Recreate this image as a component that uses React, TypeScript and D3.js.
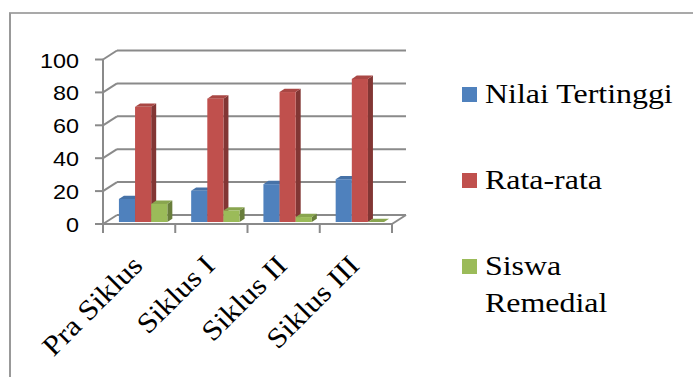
import React from "react";
import * as d3 from "d3";

const categories = ["Pra Siklus", "Siklus I", "Siklus II", "Siklus III"];
const seriesNames = ["Nilai Tertinggi", "Rata-rata", "Siswa Remedial"];
const nilaiTertinggi = [14, 19, 23, 26];
const rataRata = [70, 75, 79, 87];
const siswaRemedial = [11, 7, 3, 0];
const yTicks = [0, 20, 40, 60, 80, 100];
const legendLines = [["Nilai Tertinggi"], ["Rata-rata"], ["Siswa", "Remedial"]];

const seriesValues = [nilaiTertinggi, rataRata, siswaRemedial];
const colors = ["#4F81BD", "#C0504D", "#9BBB59"];

const W = 693;
const H = 377;
// wall depth (back wall offset) and bar depth
const DX = 14;
const DY = -9;
const BAR_OX = 4;
const BAR_OY = -2;
const BAR_DX = 5;
const BAR_DY = -3.3;
const STRETCH = 1.14; // source picture is a bit wider than tall

const serif = "'Liberation Serif', 'Times New Roman', serif";
const sans = "'Liberation Sans', Arial, sans-serif";

const App = () => {
  const x0 = d3
    .scaleBand<string>()
    .domain(categories)
    .range([103, 392])
    .paddingInner(0.33)
    .paddingOuter(0.165);
  const x1 = d3
    .scaleBand<string>()
    .domain(seriesNames)
    .range([0, x0.bandwidth()]);
  const y = d3.scaleLinear().domain([0, 100]).range([224, 59.5]);

  const step = x0.step();
  const grid = "#8a8a8a";

  const bars: JSX.Element[] = [];
  categories.forEach((c, ci) => {
    seriesNames.forEach((s, si) => {
      const v = seriesValues[si][ci];
      const x = (x0(c) as number) + (x1(s) as number) + BAR_OX;
      const w = x1.bandwidth();
      const yb = y(0) + BAR_OY;
      const yt = y(v) + BAR_OY;
      const col = d3.color(colors[si]) as d3.RGBColor;
      const top = col.darker(0.35).formatHex();
      const side = col.darker(1.1).formatHex();
      const sidePath = d3.path();
      sidePath.moveTo(x + w, yt);
      sidePath.lineTo(x + w + BAR_DX, yt + BAR_DY);
      sidePath.lineTo(x + w + BAR_DX, yb + BAR_DY);
      sidePath.lineTo(x + w, yb);
      sidePath.closePath();
      const topPath = d3.path();
      topPath.moveTo(x, yt);
      topPath.lineTo(x + w, yt);
      topPath.lineTo(x + w + BAR_DX, yt + BAR_DY);
      topPath.lineTo(x + BAR_DX, yt + BAR_DY);
      topPath.closePath();
      bars.push(
        <g key={`${ci}-${si}`}>
          <path d={sidePath.toString()} fill={side} />
          <path d={topPath.toString()} fill={top} />
          <rect x={x} y={yt} width={w} height={Math.max(0, yb - yt)} fill={colors[si]} />
        </g>
      );
    });
  });

  const legendY = [103, 189, 275];

  return (
    <svg
      width={W}
      height={H}
      style={{ position: "absolute", left: 0, top: 0, background: "#fff" }}
    >
      {/* outer frame (top and left visible) */}
      <line x1={9} y1={13} x2={W} y2={13} stroke="#8c8c8c" strokeWidth={1.5} />
      <line x1={10} y1={13} x2={10} y2={H} stroke="#999" strokeWidth={2} />

      {/* walls / gridlines */}
      {yTicks.map((t) => (
        <g key={t} stroke={grid} strokeWidth={2} fill="none">
          <line x1={95} y1={y(t)} x2={103} y2={y(t)} />
          <line x1={103} y1={y(t)} x2={103 + DX} y2={y(t) + DY} />
          <line x1={103 + DX} y1={y(t) + DY} x2={392 + DX} y2={y(t) + DY} />
        </g>
      ))}
      <g stroke={grid} strokeWidth={2}>
        <line x1={103} y1={y(100)} x2={103} y2={y(0) + 9} />
        <line x1={103} y1={y(0)} x2={392} y2={y(0)} />
        <line x1={392} y1={y(0)} x2={392 + DX} y2={y(0) + DY} />
        {d3.range(categories.length + 1).map((i) => (
          <line
            key={i}
            x1={103 + i * step}
            y1={y(0)}
            x2={103 + i * step}
            y2={y(0) + 9}
          />
        ))}
      </g>

      {/* bars */}
      {bars}

      {/* y labels */}
      {yTicks.map((t) => (
        <text
          key={t}
          transform={`translate(79,${y(t) + 8}) scale(${STRETCH},1)`}
          textAnchor="end"
          style={{ fontFamily: sans, fontSize: 20.5 }}
          fill="#000"
        >
          {t}
        </text>
      ))}

      {/* x labels, 45 degrees */}
      {categories.map((c) => {
        const cx = (x0(c) as number) + x0.bandwidth() / 2 + 5;
        return (
          <text
            key={c}
            transform={`translate(${cx},267) rotate(-45) scale(1.12,1)`}
            textAnchor="end"
            style={{ fontFamily: serif, fontSize: 28 }}
            fill="#000"
          >
            {c}
          </text>
        );
      })}

      {/* legend */}
      {seriesNames.map((s, i) => (
        <g key={s}>
          <rect x={462} y={legendY[i] - 16} width={15} height={15} fill={colors[i]} />
          {legendLines[i].map((line, li) => (
            <text
              key={line}
              transform={`translate(485,${legendY[i] + li * 37}) scale(${STRETCH},1)`}
              style={{ fontFamily: serif, fontSize: 28 }}
              fill="#000"
            >
              {line}
            </text>
          ))}
        </g>
      ))}
    </svg>
  );
};

export default App;
